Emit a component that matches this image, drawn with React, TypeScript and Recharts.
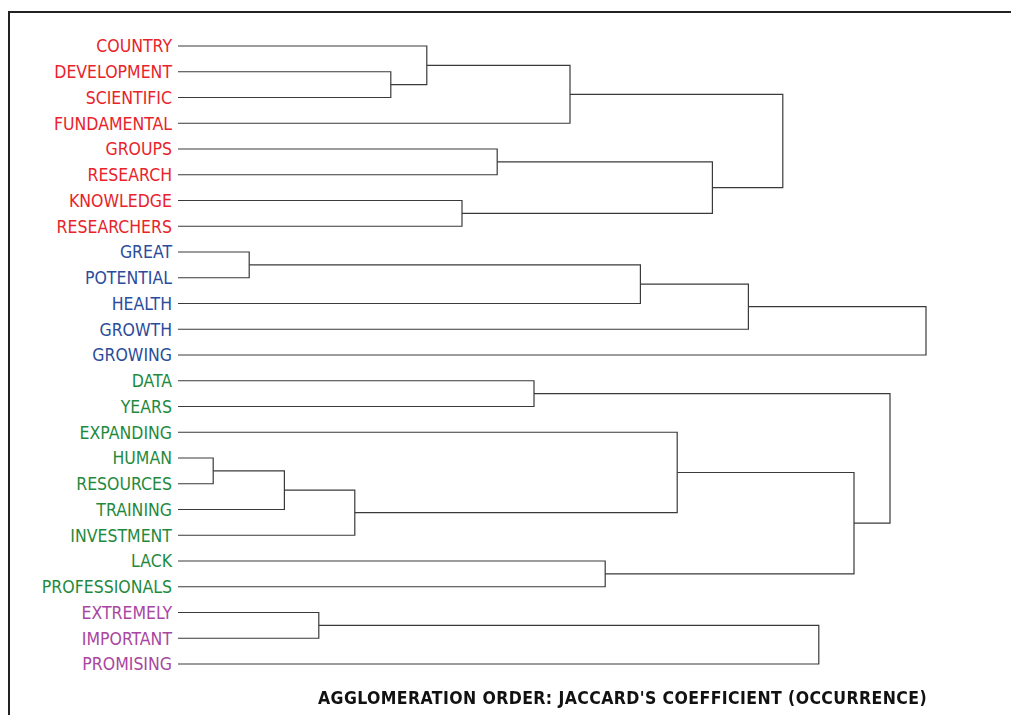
import * as React from "react"
import { ComposedChart, Line, XAxis, YAxis } from "recharts"

// leaves, top to bottom
const leaves = [
  "COUNTRY", "DEVELOPMENT", "SCIENTIFIC", "FUNDAMENTAL", "GROUPS", "RESEARCH", "KNOWLEDGE", "RESEARCHERS",
  "GREAT", "POTENTIAL", "HEALTH", "GROWTH", "GROWING",
  "DATA", "YEARS", "EXPANDING", "HUMAN", "RESOURCES", "TRAINING", "INVESTMENT", "LACK", "PROFESSIONALS",
  "EXTREMELY", "IMPORTANT", "PROMISING",
]

const clusterSizes = [8, 5, 9, 3]
const clusterColors = ["#e8232b", "#2b4c9b", "#1f8a3e", "#a9469f"]

// merges: [left, right, height]; a string is a leaf, a number is an earlier merge
const merges: [string | number, string | number, number][] = [
  ["DEVELOPMENT", "SCIENTIFIC", 26.6], // 0
  ["COUNTRY", 0, 31.1], // 1
  [1, "FUNDAMENTAL", 49], // 2
  ["GROUPS", "RESEARCH", 39.9], // 3
  ["KNOWLEDGE", "RESEARCHERS", 35.5], // 4
  [3, 4, 66.8], // 5
  [2, 5, 75.6], // 6
  ["GREAT", "POTENTIAL", 8.9], // 7
  [7, "HEALTH", 57.8], // 8
  [8, "GROWTH", 71.3], // 9
  [9, "GROWING", 93.5], // 10
  ["DATA", "YEARS", 44.5], // 11
  ["HUMAN", "RESOURCES", 4.4], // 12
  [12, "TRAINING", 13.3], // 13
  [13, "INVESTMENT", 22.1], // 14
  ["EXPANDING", 14, 62.4], // 15
  ["LACK", "PROFESSIONALS", 53.4], // 16
  [15, 16, 84.5], // 17
  [11, 17, 89], // 18
  ["EXTREMELY", "IMPORTANT", 17.6], // 19
  [19, "PROMISING", 80.1], // 20
]

const title = "AGGLOMERATION ORDER: JACCARD'S COEFFICIENT (OCCURRENCE)"

const leafColor = (i: number) => {
  let acc = 0
  for (let c = 0; c < clusterSizes.length; c++) {
    acc += clusterSizes[c]
    if (i < acc) return clusterColors[c]
  }
  return "#000"
}

// build elbow paths
const nodes: { x: number; y: number }[] = []
const pos = (n: string | number) =>
  typeof n === "string" ? { x: 0, y: leaves.indexOf(n) } : nodes[n]

const links = merges.map(([a, b, h]) => {
  const pa = pos(a)
  const pb = pos(b)
  nodes.push({ x: h, y: (pa.y + pb.y) / 2 })
  return [
    { x: pa.x, y: pa.y },
    { x: h, y: pa.y },
    { x: h, y: pb.y },
    { x: pb.x, y: pb.y },
  ]
})

const LeafTick = (props: any) => {
  const { x, y, payload } = props
  const i = payload.value
  return (
    <text x={x} y={y} dy="0.36em" textAnchor="end" fill={leafColor(i)} fontSize={17.5}
      fontFamily="'DejaVu Sans Condensed', 'DejaVu Sans', sans-serif">
      {leaves[i]}
    </text>
  )
}

export default function App() {
  return (
    <div>
      <div
        style={{
          position: "fixed",
          left: 8,
          top: 11,
          width: 1003,
          height: 704,
          borderTop: "2px solid #222",
          borderLeft: "2px solid #222",
          boxSizing: "border-box",
          background: "#fff",
        }}
      />
      <div style={{ position: "fixed", left: 0, top: 0 }}>
        <ComposedChart width={1011} height={715} margin={{ top: 46, right: 33, bottom: 51, left: 8 }}>
          <XAxis type="number" dataKey="x" domain={[0, 100]} hide allowDataOverflow />
          <YAxis
            type="number"
            dataKey="y"
            domain={[0, 24]}
            reversed
            ticks={leaves.map((_, i) => i)}
            interval={0}
            width={170}
            axisLine={false}
            tickLine={false}
            tickSize={0}
            tickMargin={6}
            tick={<LeafTick />}
          />
          {links.map((d, i) => (
            <Line
              key={i}
              data={d}
              dataKey="y"
              type="linear"
              stroke="#3a3a3a"
              strokeWidth={1.2}
              dot={false}
              activeDot={false}
              isAnimationActive={false}
            />
          ))}
        </ComposedChart>
      </div>
      <div
        style={{
          position: "fixed",
          left: 0,
          width: 1245,
          top: 688,
          textAlign: "center",
          fontFamily: "'DejaVu Sans Condensed', 'DejaVu Sans', sans-serif",
          fontWeight: "bold",
          fontSize: 17.5,
          letterSpacing: 0.4,
          color: "#111",
          whiteSpace: "nowrap",
        }}
      >
        {title}
      </div>
    </div>
  )
}
